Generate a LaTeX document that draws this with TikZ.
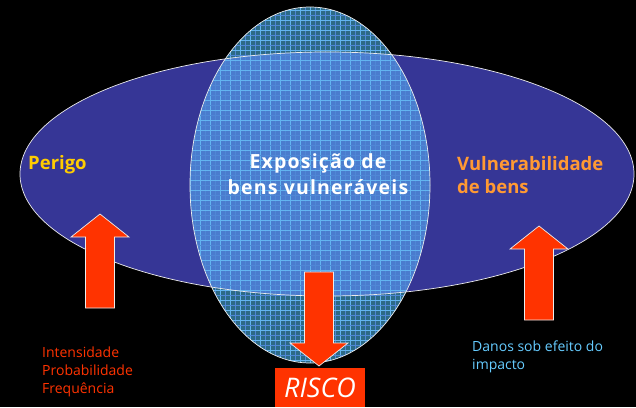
\documentclass[tikz,border=0pt]{standalone}
\usepackage{fontspec}
\setmainfont{Open Sans}
\usepackage{xcolor}
\usepackage{tikz}
\usetikzlibrary{positioning}
\definecolor{zone blue}{HTML}{363696}
\definecolor{grid dark}{HTML}{2C6A86}
\definecolor{grid light}{HTML}{4A7CCE}
\definecolor{grid line}{HTML}{62B4F0}
\definecolor{risk red}{HTML}{FF3300}
\definecolor{hazard yellow}{HTML}{FFCC00}
\definecolor{vuln orange}{HTML}{FF9933}
\definecolor{damage blue}{HTML}{66CCFF}
\tikzset{
big label/.style = { font = \bfseries\fontsize{18.5}{25}\selectfont, inner sep = 0pt },
center label/.style = { font = \bfseries\fontsize{19.5}{25}\selectfont\addfontfeature{LetterSpace = 6}, inner sep = 0pt },
small label/.style = { font = \fontsize{14}{18}\selectfont, inner sep = 0pt, align = left },
risk box/.style = { rectangle, fill = risk red, text = white, inner sep = 0pt, minimum width = 90pt, minimum height = 39pt, font = \itshape\fontsize{27}{27}\selectfont },
}
\tikzset{
pics/block arrow/.style args={#1, #2}{
        code = {
        \path[draw = white!85!gray, fill = #2, line width = 0.7pt] (0, 0) -- (29, 23) -- (14.5, 23) -- (14.5, 23 + #1) -- (-14.5, 23 + #1) -- (-14.5, 23) -- (-29, 23) -- cycle;
        }
    }
}
\begin{document}
\begin{tikzpicture}[x = 1pt, y = -1pt]
    \useasboundingbox[fill = black] (0, 0) rectangle (636, 407);
    % the two zones
    \path[fill = zone blue] (327, 174) ellipse [x radius = 307, y radius = 122];
    \path[fill = grid dark] (310, 185) ellipse [x radius = 120, y radius = 178];
    \begin{scope}
        \clip (327, 174) ellipse [x radius = 307, y radius = 122];
        \path[fill = grid light] (310, 185) ellipse [x radius = 120, y radius = 178];
    \end{scope}
    \begin{scope}
        \clip (310, 185) ellipse [x radius = 120, y radius = 178];
        \foreach \k in {0, ..., 26} {
            \draw[grid line!20!grid light, line width = 0.3pt] (185 + 10*\k, 0) -- (185 + 10*\k, 370);
            \draw[grid line, line width = 0.8pt] (180 + 10*\k, 0) -- (180 + 10*\k, 370);
        }
        \foreach \k in {0, ..., 37} {
            \draw[grid line!20!grid light, line width = 0.3pt] (180, 5 + 10*\k) -- (440, 5 + 10*\k);
            \draw[grid line, line width = 0.8pt] (180, 10*\k) -- (440, 10*\k);
        }
    \end{scope}
    \draw[white!85!gray, line width = 0.7pt] (327, 174) ellipse [x radius = 307, y radius = 122];
    \draw[white!85!gray, line width = 0.7pt] (310, 185) ellipse [x radius = 120, y radius = 178];
    % labels
    \node[big label, text = hazard yellow, anchor = base west] (perigo) at (28, 169) {Perigo};
    \node[center label, text = white, anchor = base] (exposicao) at (318, 168) {Exposição de};
    \node[center label, text = white, anchor = base] (exposicao2) at (318, 194) {bens vulneráveis};
    \node[big label, text = vuln orange, anchor = base west] (vulner) at (457, 170) {Vulnerabilidade};
    \node[big label, text = vuln orange, anchor = base west] (vulner2) at (457, 193) {de bens};
    % arrows
    \draw (100, 214) pic{block arrow = {71, risk red}};
    \draw (539, 226) pic{block arrow = {71, risk red}};
    \draw (319, 366) pic[rotate = 180]{block arrow = {71, risk red}};
    \node[risk box, anchor = north] (risco) at (320, 368) {RISCO};
    % notes
    \node[small label, text = risk red, anchor = north west] (fatores) at (42, 347) {Intensidade\\Probabilidade\\Frequência};
    \node[small label, text = damage blue, anchor = north west] (danos) at (472, 341) {Danos sob efeito do\\impacto};
  \end{tikzpicture}
\end{document}
